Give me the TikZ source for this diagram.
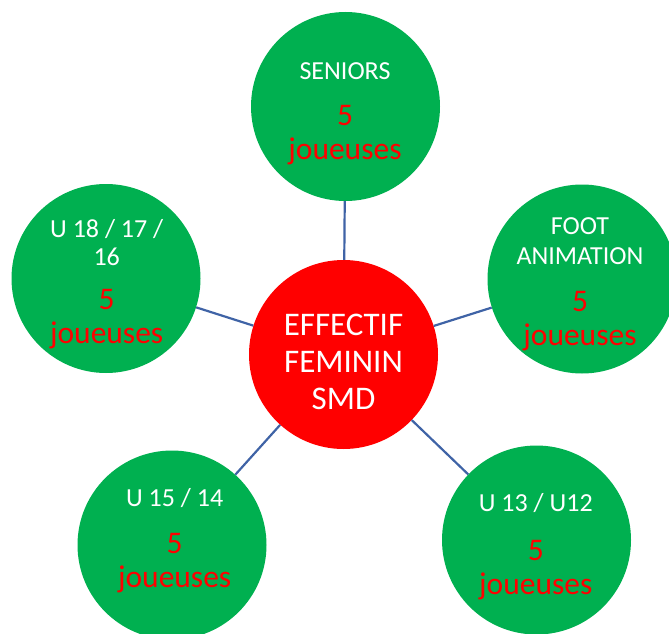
\documentclass[tikz,border=0pt]{standalone}
\usepackage{fontspec}
\setmainfont{Carlito}

\definecolor{vertbulle}{HTML}{00B050}
\definecolor{lienbleu}{HTML}{3F63A6}

\newcommand{\blanc}[1]{{\color{white}\fontsize{26}{28}\selectfont #1}}

\tikzset{
  bulle/.style={circle, fill=vertbulle, minimum size=189pt, inner sep=0pt},
  coeur/.style={circle, fill=red, minimum size=189pt, inner sep=0pt},
  lien/.style={draw=lienbleu, line width=2.2pt},
  effectif/.style={align=center, text=red, font=\fontsize{31.5}{34}\selectfont},
}

\begin{document}
\begin{tikzpicture}[x=1pt, y=-1pt]

  \useasboundingbox (0, 0) rectangle (669, 634);

  % les bulles
  \node [coeur] (smd) at (343.5, 354.5) {};
  \node [bulle] (seniors) at (345.5, 106.5) {};
  \node [bulle] (u18) at (106, 278.5) {};
  \node [bulle] (foot) at (582, 279) {};
  \node [bulle] (u15) at (172, 545) {};
  \node [bulle] (u13) at (536.5, 540) {};

  % les liens
  \draw [lien] (smd) -- (seniors);
  \draw [lien] (smd) -- (u18);
  \draw [lien] (smd) -- (foot);
  \draw [lien] (smd) -- (u15);
  \draw [lien] (smd) -- (u13);

  % les textes
  \node [align=center, text=white, font=\fontsize{33}{37}\selectfont] (smd-t) at (343.5, 362) {EFFECTIF\\FEMININ\\SMD};
  \node [effectif] (seniors-t) at (345, 114.25) {\blanc{SENIORS}\\[12pt]5\\joueuses};
  \node [effectif] (u18-t) at (106.7, 284.5) {\blanc{U 18 / 17 /}\\[-6pt]\blanc{16}\\[10pt]5\\joueuses};
  \node [effectif] (foot-t) at (580, 284) {\blanc{FOOT}\\[-4pt]\blanc{ANIMATION}\\[13pt]5\\joueuses};
  \node [effectif] (u15-t) at (174.7, 540.5) {\blanc{U 15 / 14}\\[13pt]5\\joueuses};
  \node [effectif] (u13-t) at (535.8, 546.5) {\blanc{U 13 / U12}\\[15pt]5\\joueuses};

\end{tikzpicture}
\end{document}
